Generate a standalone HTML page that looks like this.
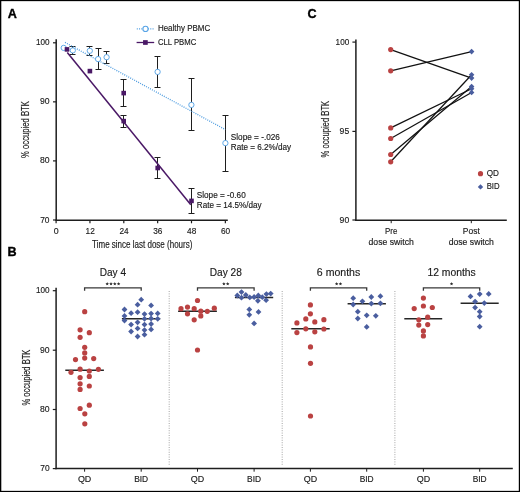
<!DOCTYPE html><html><head><meta charset="utf-8"><style>html,body{margin:0;padding:0;background:#fff;}svg{display:block;will-change:transform;}</style></head><body>
<svg width="520" height="492" viewBox="0 0 520 492" font-family='"Liberation Sans", sans-serif'>
<rect x="0" y="0" width="520" height="492" fill="#fff"/>
<text x="7.8" y="17.8" font-size="12.6" text-anchor="start" font-weight="bold" fill="#000" stroke="#000" stroke-width="0.35">A</text>
<line x1="56.2" y1="39.3" x2="56.2" y2="220.9" stroke="#1e1e1e" stroke-width="1.5"/>
<line x1="55.5" y1="220.2" x2="227.8" y2="220.2" stroke="#1e1e1e" stroke-width="1.5"/>
<line x1="53.0" y1="42.8" x2="56.2" y2="42.8" stroke="#1e1e1e" stroke-width="1.2"/>
<text x="49.5" y="45.3" font-size="9.3" text-anchor="end" font-weight="normal" fill="#1a1a1a" stroke="#1a1a1a" stroke-width="0.15" textLength="13.6" lengthAdjust="spacingAndGlyphs">100</text>
<line x1="53.0" y1="101.85" x2="56.2" y2="101.85" stroke="#1e1e1e" stroke-width="1.2"/>
<text x="49.5" y="104.35" font-size="9.3" text-anchor="end" font-weight="normal" fill="#1a1a1a" stroke="#1a1a1a" stroke-width="0.15" textLength="9.6" lengthAdjust="spacingAndGlyphs">90</text>
<line x1="53.0" y1="160.9" x2="56.2" y2="160.9" stroke="#1e1e1e" stroke-width="1.2"/>
<text x="49.5" y="163.4" font-size="9.3" text-anchor="end" font-weight="normal" fill="#1a1a1a" stroke="#1a1a1a" stroke-width="0.15" textLength="9.6" lengthAdjust="spacingAndGlyphs">80</text>
<line x1="53.0" y1="220.0" x2="56.2" y2="220.0" stroke="#1e1e1e" stroke-width="1.2"/>
<text x="49.5" y="222.5" font-size="9.3" text-anchor="end" font-weight="normal" fill="#1a1a1a" stroke="#1a1a1a" stroke-width="0.15" textLength="9.3" lengthAdjust="spacingAndGlyphs">70</text>
<line x1="56.1" y1="220.2" x2="56.1" y2="223.3" stroke="#1e1e1e" stroke-width="1.2"/>
<text x="56.300000000000004" y="234.2" font-size="9.3" text-anchor="middle" font-weight="normal" fill="#1a1a1a" stroke="#1a1a1a" stroke-width="0.15" textLength="4.9" lengthAdjust="spacingAndGlyphs">0</text>
<line x1="89.95" y1="220.2" x2="89.95" y2="223.3" stroke="#1e1e1e" stroke-width="1.2"/>
<text x="90.15" y="234.2" font-size="9.3" text-anchor="middle" font-weight="normal" fill="#1a1a1a" stroke="#1a1a1a" stroke-width="0.15" textLength="9.2" lengthAdjust="spacingAndGlyphs">12</text>
<line x1="123.80000000000001" y1="220.2" x2="123.80000000000001" y2="223.3" stroke="#1e1e1e" stroke-width="1.2"/>
<text x="124.00000000000001" y="234.2" font-size="9.3" text-anchor="middle" font-weight="normal" fill="#1a1a1a" stroke="#1a1a1a" stroke-width="0.15" textLength="9.2" lengthAdjust="spacingAndGlyphs">24</text>
<line x1="157.65" y1="220.2" x2="157.65" y2="223.3" stroke="#1e1e1e" stroke-width="1.2"/>
<text x="157.85" y="234.2" font-size="9.3" text-anchor="middle" font-weight="normal" fill="#1a1a1a" stroke="#1a1a1a" stroke-width="0.15" textLength="9.2" lengthAdjust="spacingAndGlyphs">36</text>
<line x1="191.5" y1="220.2" x2="191.5" y2="223.3" stroke="#1e1e1e" stroke-width="1.2"/>
<text x="191.7" y="234.2" font-size="9.3" text-anchor="middle" font-weight="normal" fill="#1a1a1a" stroke="#1a1a1a" stroke-width="0.15" textLength="9.2" lengthAdjust="spacingAndGlyphs">48</text>
<line x1="225.35" y1="220.2" x2="225.35" y2="223.3" stroke="#1e1e1e" stroke-width="1.2"/>
<text x="225.54999999999998" y="234.2" font-size="9.3" text-anchor="middle" font-weight="normal" fill="#1a1a1a" stroke="#1a1a1a" stroke-width="0.15" textLength="9.2" lengthAdjust="spacingAndGlyphs">60</text>
<text x="92.1" y="247.9" font-size="10.0" text-anchor="start" font-weight="normal" fill="#1a1a1a" stroke="#1a1a1a" stroke-width="0.15" textLength="100.3" lengthAdjust="spacingAndGlyphs">Time since last dose (hours)</text>
<text transform="translate(29.4,157.9) rotate(-90)" x="0" y="0" font-size="10.2" fill="#1a1a1a" stroke="#1a1a1a" stroke-width="0.15" textLength="56.7" lengthAdjust="spacingAndGlyphs">% occupied BTK</text>
<line x1="72.5" y1="46.5" x2="72.5" y2="54.5" stroke="#1e1e1e" stroke-width="1.0"/>
<line x1="69.5" y1="46.5" x2="75.5" y2="46.5" stroke="#1e1e1e" stroke-width="1.0"/>
<line x1="69.5" y1="54.5" x2="75.5" y2="54.5" stroke="#1e1e1e" stroke-width="1.0"/>
<line x1="89.5" y1="46.5" x2="89.5" y2="55.5" stroke="#1e1e1e" stroke-width="1.0"/>
<line x1="86.5" y1="46.5" x2="92.5" y2="46.5" stroke="#1e1e1e" stroke-width="1.0"/>
<line x1="86.5" y1="55.5" x2="92.5" y2="55.5" stroke="#1e1e1e" stroke-width="1.0"/>
<line x1="98.5" y1="48.5" x2="98.5" y2="69.5" stroke="#1e1e1e" stroke-width="1.0"/>
<line x1="95.5" y1="48.5" x2="101.5" y2="48.5" stroke="#1e1e1e" stroke-width="1.0"/>
<line x1="95.5" y1="69.5" x2="101.5" y2="69.5" stroke="#1e1e1e" stroke-width="1.0"/>
<line x1="106.5" y1="51.5" x2="106.5" y2="63.5" stroke="#1e1e1e" stroke-width="1.0"/>
<line x1="103.5" y1="51.5" x2="109.5" y2="51.5" stroke="#1e1e1e" stroke-width="1.0"/>
<line x1="103.5" y1="63.5" x2="109.5" y2="63.5" stroke="#1e1e1e" stroke-width="1.0"/>
<line x1="157.5" y1="56.5" x2="157.5" y2="87.5" stroke="#1e1e1e" stroke-width="1.0"/>
<line x1="154.5" y1="56.5" x2="160.5" y2="56.5" stroke="#1e1e1e" stroke-width="1.0"/>
<line x1="154.5" y1="87.5" x2="160.5" y2="87.5" stroke="#1e1e1e" stroke-width="1.0"/>
<line x1="191.5" y1="78.5" x2="191.5" y2="130.5" stroke="#1e1e1e" stroke-width="1.0"/>
<line x1="188.5" y1="78.5" x2="194.5" y2="78.5" stroke="#1e1e1e" stroke-width="1.0"/>
<line x1="188.5" y1="130.5" x2="194.5" y2="130.5" stroke="#1e1e1e" stroke-width="1.0"/>
<line x1="225.5" y1="115.5" x2="225.5" y2="171.5" stroke="#1e1e1e" stroke-width="1.0"/>
<line x1="222.5" y1="115.5" x2="228.5" y2="115.5" stroke="#1e1e1e" stroke-width="1.0"/>
<line x1="222.5" y1="171.5" x2="228.5" y2="171.5" stroke="#1e1e1e" stroke-width="1.0"/>
<line x1="123.5" y1="79.5" x2="123.5" y2="106.5" stroke="#1e1e1e" stroke-width="1.0"/>
<line x1="120.5" y1="79.5" x2="126.5" y2="79.5" stroke="#1e1e1e" stroke-width="1.0"/>
<line x1="120.5" y1="106.5" x2="126.5" y2="106.5" stroke="#1e1e1e" stroke-width="1.0"/>
<line x1="123.5" y1="115.5" x2="123.5" y2="127.5" stroke="#1e1e1e" stroke-width="1.0"/>
<line x1="120.5" y1="115.5" x2="126.5" y2="115.5" stroke="#1e1e1e" stroke-width="1.0"/>
<line x1="120.5" y1="127.5" x2="126.5" y2="127.5" stroke="#1e1e1e" stroke-width="1.0"/>
<line x1="157.5" y1="157.5" x2="157.5" y2="178.5" stroke="#1e1e1e" stroke-width="1.0"/>
<line x1="154.5" y1="157.5" x2="160.5" y2="157.5" stroke="#1e1e1e" stroke-width="1.0"/>
<line x1="154.5" y1="178.5" x2="160.5" y2="178.5" stroke="#1e1e1e" stroke-width="1.0"/>
<line x1="191.5" y1="188.5" x2="191.5" y2="213.5" stroke="#1e1e1e" stroke-width="1.0"/>
<line x1="188.5" y1="188.5" x2="194.5" y2="188.5" stroke="#1e1e1e" stroke-width="1.0"/>
<line x1="188.5" y1="213.5" x2="194.5" y2="213.5" stroke="#1e1e1e" stroke-width="1.0"/>
<line x1="65.0" y1="42.4" x2="225.3" y2="129.6" stroke="#4f9de0" stroke-width="1.3" stroke-dasharray="1.0 1.25"/>
<line x1="67.3" y1="52.5" x2="190.8" y2="204.7" stroke="#4a1866" stroke-width="1.5"/>
<circle cx="63.7" cy="47.9" r="2.65" fill="#fff" stroke="#58a4e6" stroke-width="0.95"/>
<circle cx="72.8" cy="50.4" r="2.65" fill="#fff" stroke="#58a4e6" stroke-width="0.95"/>
<circle cx="89.8" cy="50.8" r="2.65" fill="#fff" stroke="#58a4e6" stroke-width="0.95"/>
<circle cx="98.1" cy="59.1" r="2.65" fill="#fff" stroke="#58a4e6" stroke-width="0.95"/>
<circle cx="106.6" cy="57.2" r="2.65" fill="#fff" stroke="#58a4e6" stroke-width="0.95"/>
<circle cx="157.6" cy="71.9" r="2.65" fill="#fff" stroke="#58a4e6" stroke-width="0.95"/>
<circle cx="191.4" cy="104.9" r="2.65" fill="#fff" stroke="#58a4e6" stroke-width="0.95"/>
<circle cx="225.4" cy="143.1" r="2.65" fill="#fff" stroke="#58a4e6" stroke-width="0.95"/>
<rect x="64.7" y="47.1" width="4.6" height="4.6" fill="#4a1866"/>
<rect x="87.60000000000001" y="68.8" width="4.6" height="4.6" fill="#4a1866"/>
<rect x="121.4" y="90.8" width="4.6" height="4.6" fill="#4a1866"/>
<rect x="121.4" y="118.8" width="4.6" height="4.6" fill="#4a1866"/>
<rect x="155.39999999999998" y="165.7" width="4.6" height="4.6" fill="#4a1866"/>
<rect x="189.2" y="198.6" width="4.6" height="4.6" fill="#4a1866"/>
<line x1="136.8" y1="28.9" x2="154.8" y2="28.9" stroke="#4f9de0" stroke-width="1.3" stroke-dasharray="1.0 1.25"/>
<circle cx="145.5" cy="28.9" r="2.6" fill="#fff" stroke="#58a4e6" stroke-width="1.1"/>
<text x="157.9" y="31.3" font-size="8.6" text-anchor="start" font-weight="normal" fill="#1a1a1a" stroke="#1a1a1a" stroke-width="0.15" textLength="52.3" lengthAdjust="spacingAndGlyphs">Healthy PBMC</text>
<line x1="136.6" y1="42.5" x2="154.2" y2="42.5" stroke="#4a1866" stroke-width="1.3"/>
<rect x="143.05" y="40.15" width="4.7" height="4.7" fill="#4a1866"/>
<text x="157.9" y="44.9" font-size="8.6" text-anchor="start" font-weight="normal" fill="#1a1a1a" stroke="#1a1a1a" stroke-width="0.15" textLength="38.4" lengthAdjust="spacingAndGlyphs">CLL PBMC</text>
<text x="230.8" y="140.4" font-size="8.6" text-anchor="start" font-weight="normal" fill="#1a1a1a" stroke="#1a1a1a" stroke-width="0.15" textLength="49.1" lengthAdjust="spacingAndGlyphs">Slope = -.026</text>
<text x="230.8" y="149.8" font-size="8.6" text-anchor="start" font-weight="normal" fill="#1a1a1a" stroke="#1a1a1a" stroke-width="0.15" textLength="60.4" lengthAdjust="spacingAndGlyphs">Rate = 6.2%/day</text>
<text x="196.8" y="198.2" font-size="8.6" text-anchor="start" font-weight="normal" fill="#1a1a1a" stroke="#1a1a1a" stroke-width="0.15" textLength="48.9" lengthAdjust="spacingAndGlyphs">Slope = -0.60</text>
<text x="196.8" y="207.6" font-size="8.6" text-anchor="start" font-weight="normal" fill="#1a1a1a" stroke="#1a1a1a" stroke-width="0.15" textLength="64.9" lengthAdjust="spacingAndGlyphs">Rate = 14.5%/day</text>
<text x="307.6" y="18.3" font-size="12.6" text-anchor="start" font-weight="bold" fill="#000" stroke="#000" stroke-width="0.35">C</text>
<line x1="355.9" y1="39.6" x2="355.9" y2="220.9" stroke="#1e1e1e" stroke-width="1.5"/>
<line x1="355.2" y1="220.2" x2="506.8" y2="220.2" stroke="#1e1e1e" stroke-width="1.5"/>
<line x1="352.4" y1="42.1" x2="355.9" y2="42.1" stroke="#1e1e1e" stroke-width="1.2"/>
<text x="349.2" y="44.6" font-size="9.3" text-anchor="end" font-weight="normal" fill="#1a1a1a" stroke="#1a1a1a" stroke-width="0.15" textLength="13.6" lengthAdjust="spacingAndGlyphs">100</text>
<line x1="352.4" y1="131.4" x2="355.9" y2="131.4" stroke="#1e1e1e" stroke-width="1.2"/>
<text x="349.2" y="133.9" font-size="9.3" text-anchor="end" font-weight="normal" fill="#1a1a1a" stroke="#1a1a1a" stroke-width="0.15" textLength="9.6" lengthAdjust="spacingAndGlyphs">95</text>
<line x1="352.4" y1="220.0" x2="355.9" y2="220.0" stroke="#1e1e1e" stroke-width="1.2"/>
<text x="349.2" y="222.5" font-size="9.3" text-anchor="end" font-weight="normal" fill="#1a1a1a" stroke="#1a1a1a" stroke-width="0.15" textLength="9.6" lengthAdjust="spacingAndGlyphs">90</text>
<line x1="391.2" y1="220.2" x2="391.2" y2="223.2" stroke="#1e1e1e" stroke-width="1.0"/>
<text x="391.2" y="234.1" font-size="8.8" text-anchor="middle" font-weight="normal" fill="#1a1a1a" stroke="#1a1a1a" stroke-width="0.15" textLength="12.3" lengthAdjust="spacingAndGlyphs">Pre</text>
<text x="391.2" y="244.6" font-size="8.8" text-anchor="middle" font-weight="normal" fill="#1a1a1a" stroke="#1a1a1a" stroke-width="0.15" textLength="45.3" lengthAdjust="spacingAndGlyphs">dose switch</text>
<line x1="471.3" y1="220.2" x2="471.3" y2="223.2" stroke="#1e1e1e" stroke-width="1.0"/>
<text x="471.3" y="234.1" font-size="8.8" text-anchor="middle" font-weight="normal" fill="#1a1a1a" stroke="#1a1a1a" stroke-width="0.15" textLength="16.9" lengthAdjust="spacingAndGlyphs">Post</text>
<text x="471.3" y="244.6" font-size="8.8" text-anchor="middle" font-weight="normal" fill="#1a1a1a" stroke="#1a1a1a" stroke-width="0.15" textLength="45.3" lengthAdjust="spacingAndGlyphs">dose switch</text>
<text transform="translate(328.7,157.5) rotate(-90)" x="0" y="0" font-size="10.2" fill="#1a1a1a" stroke="#1a1a1a" stroke-width="0.15" textLength="56.7" lengthAdjust="spacingAndGlyphs">% occupied BTK</text>
<line x1="390.7" y1="49.6" x2="471.6" y2="78.1" stroke="#111" stroke-width="1.25"/>
<line x1="390.7" y1="70.8" x2="471.6" y2="51.6" stroke="#111" stroke-width="1.25"/>
<line x1="390.7" y1="127.9" x2="471.6" y2="88.7" stroke="#111" stroke-width="1.25"/>
<line x1="390.7" y1="138.5" x2="471.6" y2="92.5" stroke="#111" stroke-width="1.25"/>
<line x1="390.7" y1="154.5" x2="471.6" y2="86.6" stroke="#111" stroke-width="1.25"/>
<line x1="390.7" y1="161.8" x2="471.6" y2="74.7" stroke="#111" stroke-width="1.25"/>
<circle cx="390.7" cy="49.6" r="2.6" fill="#ba4242" stroke="none" stroke-width="0"/>
<circle cx="390.7" cy="70.8" r="2.6" fill="#ba4242" stroke="none" stroke-width="0"/>
<circle cx="390.7" cy="127.9" r="2.6" fill="#ba4242" stroke="none" stroke-width="0"/>
<circle cx="390.7" cy="138.5" r="2.6" fill="#ba4242" stroke="none" stroke-width="0"/>
<circle cx="390.7" cy="154.5" r="2.6" fill="#ba4242" stroke="none" stroke-width="0"/>
<circle cx="390.7" cy="161.8" r="2.6" fill="#ba4242" stroke="none" stroke-width="0"/>
<path d="M471.6 48.800000000000004L474.40000000000003 51.6L471.6 54.4L468.8 51.6Z" fill="#4a5e9f"/>
<path d="M471.6 71.9L474.40000000000003 74.7L471.6 77.5L468.8 74.7Z" fill="#4a5e9f"/>
<path d="M471.6 75.3L474.40000000000003 78.1L471.6 80.89999999999999L468.8 78.1Z" fill="#4a5e9f"/>
<path d="M471.6 83.8L474.40000000000003 86.6L471.6 89.39999999999999L468.8 86.6Z" fill="#4a5e9f"/>
<path d="M471.6 85.9L474.40000000000003 88.7L471.6 91.5L468.8 88.7Z" fill="#4a5e9f"/>
<path d="M471.6 89.7L474.40000000000003 92.5L471.6 95.3L468.8 92.5Z" fill="#4a5e9f"/>
<circle cx="480.5" cy="173.7" r="2.6" fill="#ba4242" stroke="none" stroke-width="0"/>
<text x="486.7" y="176.0" font-size="8.6" text-anchor="start" font-weight="normal" fill="#1a1a1a" stroke="#1a1a1a" stroke-width="0.15" textLength="12.2" lengthAdjust="spacingAndGlyphs">QD</text>
<path d="M480.5 184.20000000000002L483.2 186.9L480.5 189.6L477.8 186.9Z" fill="#4a5e9f"/>
<text x="486.7" y="189.2" font-size="8.6" text-anchor="start" font-weight="normal" fill="#1a1a1a" stroke="#1a1a1a" stroke-width="0.15" textLength="12.9" lengthAdjust="spacingAndGlyphs">BID</text>
<text x="7.6" y="255.9" font-size="12.6" text-anchor="start" font-weight="bold" fill="#000" stroke="#000" stroke-width="0.35">B</text>
<line x1="56.1" y1="287.7" x2="56.1" y2="469.3" stroke="#1e1e1e" stroke-width="1.5"/>
<line x1="55.4" y1="468.6" x2="512.8" y2="468.6" stroke="#1e1e1e" stroke-width="1.5"/>
<line x1="52.8" y1="290.7" x2="56.1" y2="290.7" stroke="#1e1e1e" stroke-width="1.2"/>
<text x="49.6" y="293.2" font-size="9.3" text-anchor="end" font-weight="normal" fill="#1a1a1a" stroke="#1a1a1a" stroke-width="0.15" textLength="13.6" lengthAdjust="spacingAndGlyphs">100</text>
<line x1="52.8" y1="350.2" x2="56.1" y2="350.2" stroke="#1e1e1e" stroke-width="1.2"/>
<text x="49.6" y="352.7" font-size="9.3" text-anchor="end" font-weight="normal" fill="#1a1a1a" stroke="#1a1a1a" stroke-width="0.15" textLength="9.6" lengthAdjust="spacingAndGlyphs">90</text>
<line x1="52.8" y1="409.5" x2="56.1" y2="409.5" stroke="#1e1e1e" stroke-width="1.2"/>
<text x="49.6" y="412.0" font-size="9.3" text-anchor="end" font-weight="normal" fill="#1a1a1a" stroke="#1a1a1a" stroke-width="0.15" textLength="9.6" lengthAdjust="spacingAndGlyphs">80</text>
<line x1="52.8" y1="468.6" x2="56.1" y2="468.6" stroke="#1e1e1e" stroke-width="1.2"/>
<text x="49.6" y="471.1" font-size="9.3" text-anchor="end" font-weight="normal" fill="#1a1a1a" stroke="#1a1a1a" stroke-width="0.15" textLength="9.3" lengthAdjust="spacingAndGlyphs">70</text>
<text transform="translate(29.7,405.6) rotate(-90)" x="0" y="0" font-size="10.2" fill="#1a1a1a" stroke="#1a1a1a" stroke-width="0.15" textLength="56.0" lengthAdjust="spacingAndGlyphs">% occupied BTK</text>
<line x1="84.6" y1="468.6" x2="84.6" y2="471.7" stroke="#1e1e1e" stroke-width="1.0"/>
<line x1="141.2" y1="468.6" x2="141.2" y2="471.7" stroke="#1e1e1e" stroke-width="1.0"/>
<text x="84.6" y="482.2" font-size="8.4" text-anchor="middle" font-weight="normal" fill="#1a1a1a" stroke="#1a1a1a" stroke-width="0.15" textLength="13.4" lengthAdjust="spacingAndGlyphs">QD</text>
<text x="141.2" y="482.2" font-size="8.4" text-anchor="middle" font-weight="normal" fill="#1a1a1a" stroke="#1a1a1a" stroke-width="0.15" textLength="14.0" lengthAdjust="spacingAndGlyphs">BID</text>
<text x="112.89999999999999" y="276.4" font-size="10.4" text-anchor="middle" font-weight="normal" fill="#1a1a1a" stroke="#1a1a1a" stroke-width="0.15" textLength="26.3" lengthAdjust="spacingAndGlyphs">Day 4</text>
<path d="M84.6 290.8V287.9H141.2V290.8" fill="none" stroke="#383838" stroke-width="1.3"/>
<polygon points="107.20,282.10 107.70,283.21 108.91,283.34 108.01,284.16 108.26,285.36 107.20,284.75 106.14,285.36 106.39,284.16 105.49,283.34 106.70,283.21" fill="#2a2a2a"/>
<polygon points="111.00,282.10 111.50,283.21 112.71,283.34 111.81,284.16 112.06,285.36 111.00,284.75 109.94,285.36 110.19,284.16 109.29,283.34 110.50,283.21" fill="#2a2a2a"/>
<polygon points="114.80,282.10 115.30,283.21 116.51,283.34 115.61,284.16 115.86,285.36 114.80,284.75 113.74,285.36 113.99,284.16 113.09,283.34 114.30,283.21" fill="#2a2a2a"/>
<polygon points="118.60,282.10 119.10,283.21 120.31,283.34 119.41,284.16 119.66,285.36 118.60,284.75 117.54,285.36 117.79,284.16 116.89,283.34 118.10,283.21" fill="#2a2a2a"/>
<line x1="197.5" y1="468.6" x2="197.5" y2="471.7" stroke="#1e1e1e" stroke-width="1.0"/>
<line x1="254.1" y1="468.6" x2="254.1" y2="471.7" stroke="#1e1e1e" stroke-width="1.0"/>
<text x="197.5" y="482.2" font-size="8.4" text-anchor="middle" font-weight="normal" fill="#1a1a1a" stroke="#1a1a1a" stroke-width="0.15" textLength="13.4" lengthAdjust="spacingAndGlyphs">QD</text>
<text x="254.1" y="482.2" font-size="8.4" text-anchor="middle" font-weight="normal" fill="#1a1a1a" stroke="#1a1a1a" stroke-width="0.15" textLength="14.0" lengthAdjust="spacingAndGlyphs">BID</text>
<text x="225.8" y="276.4" font-size="10.4" text-anchor="middle" font-weight="normal" fill="#1a1a1a" stroke="#1a1a1a" stroke-width="0.15" textLength="32.1" lengthAdjust="spacingAndGlyphs">Day 28</text>
<path d="M197.5 290.8V287.9H254.1V290.8" fill="none" stroke="#383838" stroke-width="1.3"/>
<polygon points="223.90,282.10 224.40,283.21 225.61,283.34 224.71,284.16 224.96,285.36 223.90,284.75 222.84,285.36 223.09,284.16 222.19,283.34 223.40,283.21" fill="#2a2a2a"/>
<polygon points="227.70,282.10 228.20,283.21 229.41,283.34 228.51,284.16 228.76,285.36 227.70,284.75 226.64,285.36 226.89,284.16 225.99,283.34 227.20,283.21" fill="#2a2a2a"/>
<line x1="310.4" y1="468.6" x2="310.4" y2="471.7" stroke="#1e1e1e" stroke-width="1.0"/>
<line x1="366.7" y1="468.6" x2="366.7" y2="471.7" stroke="#1e1e1e" stroke-width="1.0"/>
<text x="310.4" y="482.2" font-size="8.4" text-anchor="middle" font-weight="normal" fill="#1a1a1a" stroke="#1a1a1a" stroke-width="0.15" textLength="13.4" lengthAdjust="spacingAndGlyphs">QD</text>
<text x="366.7" y="482.2" font-size="8.4" text-anchor="middle" font-weight="normal" fill="#1a1a1a" stroke="#1a1a1a" stroke-width="0.15" textLength="14.0" lengthAdjust="spacingAndGlyphs">BID</text>
<text x="338.54999999999995" y="276.4" font-size="10.4" text-anchor="middle" font-weight="normal" fill="#1a1a1a" stroke="#1a1a1a" stroke-width="0.15" textLength="43.4" lengthAdjust="spacingAndGlyphs">6 months</text>
<path d="M310.4 290.8V287.9H366.7V290.8" fill="none" stroke="#383838" stroke-width="1.3"/>
<polygon points="336.65,282.10 337.15,283.21 338.36,283.34 337.46,284.16 337.71,285.36 336.65,284.75 335.59,285.36 335.84,284.16 334.94,283.34 336.15,283.21" fill="#2a2a2a"/>
<polygon points="340.45,282.10 340.95,283.21 342.16,283.34 341.26,284.16 341.51,285.36 340.45,284.75 339.39,285.36 339.64,284.16 338.74,283.34 339.95,283.21" fill="#2a2a2a"/>
<line x1="423.4" y1="468.6" x2="423.4" y2="471.7" stroke="#1e1e1e" stroke-width="1.0"/>
<line x1="479.7" y1="468.6" x2="479.7" y2="471.7" stroke="#1e1e1e" stroke-width="1.0"/>
<text x="423.4" y="482.2" font-size="8.4" text-anchor="middle" font-weight="normal" fill="#1a1a1a" stroke="#1a1a1a" stroke-width="0.15" textLength="13.4" lengthAdjust="spacingAndGlyphs">QD</text>
<text x="479.7" y="482.2" font-size="8.4" text-anchor="middle" font-weight="normal" fill="#1a1a1a" stroke="#1a1a1a" stroke-width="0.15" textLength="14.0" lengthAdjust="spacingAndGlyphs">BID</text>
<text x="451.54999999999995" y="276.4" font-size="10.4" text-anchor="middle" font-weight="normal" fill="#1a1a1a" stroke="#1a1a1a" stroke-width="0.15" textLength="48.3" lengthAdjust="spacingAndGlyphs">12 months</text>
<path d="M423.4 290.8V287.9H479.7V290.8" fill="none" stroke="#383838" stroke-width="1.3"/>
<polygon points="451.55,282.10 452.05,283.21 453.26,283.34 452.36,284.16 452.61,285.36 451.55,284.75 450.49,285.36 450.74,284.16 449.84,283.34 451.05,283.21" fill="#2a2a2a"/>
<line x1="169.2" y1="291.0" x2="169.2" y2="465.8" stroke="#9a9a9a" stroke-width="0.9" stroke-dasharray="1 1.4"/>
<line x1="282.2" y1="291.0" x2="282.2" y2="465.8" stroke="#9a9a9a" stroke-width="0.9" stroke-dasharray="1 1.4"/>
<line x1="394.9" y1="291.0" x2="394.9" y2="465.8" stroke="#9a9a9a" stroke-width="0.9" stroke-dasharray="1 1.4"/>
<line x1="65.3" y1="370.3" x2="103.9" y2="370.3" stroke="#262626" stroke-width="1.6"/>
<line x1="121.9" y1="318.8" x2="160.2" y2="318.8" stroke="#262626" stroke-width="1.6"/>
<line x1="178.1" y1="311.2" x2="216.9" y2="311.2" stroke="#262626" stroke-width="1.6"/>
<line x1="234.9" y1="297.5" x2="273.2" y2="297.5" stroke="#262626" stroke-width="1.6"/>
<line x1="291.3" y1="328.8" x2="329.7" y2="328.8" stroke="#262626" stroke-width="1.6"/>
<line x1="347.6" y1="303.8" x2="385.9" y2="303.8" stroke="#262626" stroke-width="1.6"/>
<line x1="404.3" y1="318.8" x2="442.2" y2="318.8" stroke="#262626" stroke-width="1.6"/>
<line x1="460.6" y1="303.3" x2="498.7" y2="303.3" stroke="#262626" stroke-width="1.6"/>
<circle cx="84.7" cy="311.7" r="2.6" fill="#ba4242" stroke="none" stroke-width="0"/>
<circle cx="80.1" cy="329.8" r="2.6" fill="#ba4242" stroke="none" stroke-width="0"/>
<circle cx="89.3" cy="332.7" r="2.6" fill="#ba4242" stroke="none" stroke-width="0"/>
<circle cx="80.1" cy="337.3" r="2.6" fill="#ba4242" stroke="none" stroke-width="0"/>
<circle cx="84.7" cy="347.3" r="2.6" fill="#ba4242" stroke="none" stroke-width="0"/>
<circle cx="84.7" cy="352.9" r="2.6" fill="#ba4242" stroke="none" stroke-width="0"/>
<circle cx="84.7" cy="358.1" r="2.6" fill="#ba4242" stroke="none" stroke-width="0"/>
<circle cx="75.5" cy="359.6" r="2.6" fill="#ba4242" stroke="none" stroke-width="0"/>
<circle cx="93.7" cy="358.6" r="2.6" fill="#ba4242" stroke="none" stroke-width="0"/>
<circle cx="80.1" cy="369.2" r="2.6" fill="#ba4242" stroke="none" stroke-width="0"/>
<circle cx="98.4" cy="369.3" r="2.6" fill="#ba4242" stroke="none" stroke-width="0"/>
<circle cx="71.0" cy="372.3" r="2.6" fill="#ba4242" stroke="none" stroke-width="0"/>
<circle cx="89.3" cy="371.0" r="2.6" fill="#ba4242" stroke="none" stroke-width="0"/>
<circle cx="89.3" cy="376.4" r="2.6" fill="#ba4242" stroke="none" stroke-width="0"/>
<circle cx="80.1" cy="377.6" r="2.6" fill="#ba4242" stroke="none" stroke-width="0"/>
<circle cx="80.1" cy="383.8" r="2.6" fill="#ba4242" stroke="none" stroke-width="0"/>
<circle cx="89.3" cy="386.0" r="2.6" fill="#ba4242" stroke="none" stroke-width="0"/>
<circle cx="80.1" cy="389.4" r="2.6" fill="#ba4242" stroke="none" stroke-width="0"/>
<circle cx="89.3" cy="405.2" r="2.6" fill="#ba4242" stroke="none" stroke-width="0"/>
<circle cx="80.1" cy="408.5" r="2.6" fill="#ba4242" stroke="none" stroke-width="0"/>
<circle cx="84.8" cy="413.8" r="2.6" fill="#ba4242" stroke="none" stroke-width="0"/>
<circle cx="84.8" cy="423.8" r="2.6" fill="#ba4242" stroke="none" stroke-width="0"/>
<circle cx="181.0" cy="308.7" r="2.6" fill="#ba4242" stroke="none" stroke-width="0"/>
<circle cx="187.5" cy="307.1" r="2.6" fill="#ba4242" stroke="none" stroke-width="0"/>
<circle cx="194.2" cy="308.7" r="2.6" fill="#ba4242" stroke="none" stroke-width="0"/>
<circle cx="197.5" cy="300.5" r="2.6" fill="#ba4242" stroke="none" stroke-width="0"/>
<circle cx="200.8" cy="311.2" r="2.6" fill="#ba4242" stroke="none" stroke-width="0"/>
<circle cx="207.3" cy="311.3" r="2.6" fill="#ba4242" stroke="none" stroke-width="0"/>
<circle cx="214.3" cy="308.2" r="2.6" fill="#ba4242" stroke="none" stroke-width="0"/>
<circle cx="187.5" cy="313.8" r="2.6" fill="#ba4242" stroke="none" stroke-width="0"/>
<circle cx="200.8" cy="315.9" r="2.6" fill="#ba4242" stroke="none" stroke-width="0"/>
<circle cx="194.2" cy="319.8" r="2.6" fill="#ba4242" stroke="none" stroke-width="0"/>
<circle cx="197.5" cy="350.0" r="2.6" fill="#ba4242" stroke="none" stroke-width="0"/>
<circle cx="310.4" cy="304.9" r="2.6" fill="#ba4242" stroke="none" stroke-width="0"/>
<circle cx="310.4" cy="313.8" r="2.6" fill="#ba4242" stroke="none" stroke-width="0"/>
<circle cx="305.8" cy="318.9" r="2.6" fill="#ba4242" stroke="none" stroke-width="0"/>
<circle cx="314.8" cy="321.9" r="2.6" fill="#ba4242" stroke="none" stroke-width="0"/>
<circle cx="323.9" cy="319.7" r="2.6" fill="#ba4242" stroke="none" stroke-width="0"/>
<circle cx="296.9" cy="322.9" r="2.6" fill="#ba4242" stroke="none" stroke-width="0"/>
<circle cx="305.8" cy="328.8" r="2.6" fill="#ba4242" stroke="none" stroke-width="0"/>
<circle cx="323.9" cy="329.0" r="2.6" fill="#ba4242" stroke="none" stroke-width="0"/>
<circle cx="296.9" cy="332.6" r="2.6" fill="#ba4242" stroke="none" stroke-width="0"/>
<circle cx="314.8" cy="331.8" r="2.6" fill="#ba4242" stroke="none" stroke-width="0"/>
<circle cx="310.5" cy="346.9" r="2.6" fill="#ba4242" stroke="none" stroke-width="0"/>
<circle cx="310.5" cy="363.3" r="2.6" fill="#ba4242" stroke="none" stroke-width="0"/>
<circle cx="310.5" cy="416.0" r="2.6" fill="#ba4242" stroke="none" stroke-width="0"/>
<circle cx="423.4" cy="298.1" r="2.6" fill="#ba4242" stroke="none" stroke-width="0"/>
<circle cx="423.4" cy="306.0" r="2.6" fill="#ba4242" stroke="none" stroke-width="0"/>
<circle cx="414.2" cy="308.6" r="2.6" fill="#ba4242" stroke="none" stroke-width="0"/>
<circle cx="432.3" cy="307.5" r="2.6" fill="#ba4242" stroke="none" stroke-width="0"/>
<circle cx="427.7" cy="317.2" r="2.6" fill="#ba4242" stroke="none" stroke-width="0"/>
<circle cx="418.8" cy="319.8" r="2.6" fill="#ba4242" stroke="none" stroke-width="0"/>
<circle cx="418.8" cy="325.1" r="2.6" fill="#ba4242" stroke="none" stroke-width="0"/>
<circle cx="427.7" cy="324.6" r="2.6" fill="#ba4242" stroke="none" stroke-width="0"/>
<circle cx="423.4" cy="330.9" r="2.6" fill="#ba4242" stroke="none" stroke-width="0"/>
<circle cx="423.4" cy="335.9" r="2.6" fill="#ba4242" stroke="none" stroke-width="0"/>
<path d="M141.2 296.8L144.1 299.7L141.2 302.59999999999997L138.29999999999998 299.7Z" fill="#4a5e9f"/>
<path d="M137.6 301.8L140.5 304.7L137.6 307.59999999999997L134.7 304.7Z" fill="#4a5e9f"/>
<path d="M151.1 302.5L154.0 305.4L151.1 308.29999999999995L148.2 305.4Z" fill="#4a5e9f"/>
<path d="M124.5 306.6L127.4 309.5L124.5 312.4L121.6 309.5Z" fill="#4a5e9f"/>
<path d="M131.1 310.3L134.0 313.2L131.1 316.09999999999997L128.2 313.2Z" fill="#4a5e9f"/>
<path d="M137.6 309.3L140.5 312.2L137.6 315.09999999999997L134.7 312.2Z" fill="#4a5e9f"/>
<path d="M144.5 311.20000000000005L147.4 314.1L144.5 317.0L141.6 314.1Z" fill="#4a5e9f"/>
<path d="M151.1 310.70000000000005L154.0 313.6L151.1 316.5L148.2 313.6Z" fill="#4a5e9f"/>
<path d="M157.7 310.5L160.6 313.4L157.7 316.29999999999995L154.79999999999998 313.4Z" fill="#4a5e9f"/>
<path d="M124.5 313.0L127.4 315.9L124.5 318.79999999999995L121.6 315.9Z" fill="#4a5e9f"/>
<path d="M124.5 317.6L127.4 320.5L124.5 323.4L121.6 320.5Z" fill="#4a5e9f"/>
<path d="M144.5 315.90000000000003L147.4 318.8L144.5 321.7L141.6 318.8Z" fill="#4a5e9f"/>
<path d="M151.1 315.6L154.0 318.5L151.1 321.4L148.2 318.5Z" fill="#4a5e9f"/>
<path d="M157.7 315.90000000000003L160.6 318.8L157.7 321.7L154.79999999999998 318.8Z" fill="#4a5e9f"/>
<path d="M137.6 319.40000000000003L140.5 322.3L137.6 325.2L134.7 322.3Z" fill="#4a5e9f"/>
<path d="M131.1 321.70000000000005L134.0 324.6L131.1 327.5L128.2 324.6Z" fill="#4a5e9f"/>
<path d="M144.5 321.70000000000005L147.4 324.6L144.5 327.5L141.6 324.6Z" fill="#4a5e9f"/>
<path d="M151.1 321.1L154.0 324.0L151.1 326.9L148.2 324.0Z" fill="#4a5e9f"/>
<path d="M137.6 325.5L140.5 328.4L137.6 331.29999999999995L134.7 328.4Z" fill="#4a5e9f"/>
<path d="M131.1 328.6L134.0 331.5L131.1 334.4L128.2 331.5Z" fill="#4a5e9f"/>
<path d="M144.5 327.20000000000005L147.4 330.1L144.5 333.0L141.6 330.1Z" fill="#4a5e9f"/>
<path d="M151.1 326.5L154.0 329.4L151.1 332.29999999999995L148.2 329.4Z" fill="#4a5e9f"/>
<path d="M144.5 331.8L147.4 334.7L144.5 337.59999999999997L141.6 334.7Z" fill="#4a5e9f"/>
<path d="M137.6 333.6L140.5 336.5L137.6 339.4L134.7 336.5Z" fill="#4a5e9f"/>
<path d="M241.5 289.20000000000005L244.4 292.1L241.5 295.0L238.6 292.1Z" fill="#4a5e9f"/>
<path d="M237.3 292.6L240.20000000000002 295.5L237.3 298.4L234.4 295.5Z" fill="#4a5e9f"/>
<path d="M245.8 292.1L248.70000000000002 295.0L245.8 297.9L242.9 295.0Z" fill="#4a5e9f"/>
<path d="M241.5 294.8L244.4 297.7L241.5 300.59999999999997L238.6 297.7Z" fill="#4a5e9f"/>
<path d="M249.8 294.5L252.70000000000002 297.4L249.8 300.29999999999995L246.9 297.4Z" fill="#4a5e9f"/>
<path d="M254.1 294.1L257.0 297.0L254.1 299.9L251.2 297.0Z" fill="#4a5e9f"/>
<path d="M258.3 292.6L261.2 295.5L258.3 298.4L255.4 295.5Z" fill="#4a5e9f"/>
<path d="M262.3 294.3L265.2 297.2L262.3 300.09999999999997L259.40000000000003 297.2Z" fill="#4a5e9f"/>
<path d="M266.4 291.20000000000005L269.29999999999995 294.1L266.4 297.0L263.5 294.1Z" fill="#4a5e9f"/>
<path d="M270.7 290.70000000000005L273.59999999999997 293.6L270.7 296.5L267.8 293.6Z" fill="#4a5e9f"/>
<path d="M257.9 297.90000000000003L260.79999999999995 300.8L257.9 303.7L254.99999999999997 300.8Z" fill="#4a5e9f"/>
<path d="M266.1 297.3L269.0 300.2L266.1 303.09999999999997L263.20000000000005 300.2Z" fill="#4a5e9f"/>
<path d="M249.3 306.5L252.20000000000002 309.4L249.3 312.29999999999995L246.4 309.4Z" fill="#4a5e9f"/>
<path d="M258.5 309.0L261.4 311.9L258.5 314.79999999999995L255.6 311.9Z" fill="#4a5e9f"/>
<path d="M249.3 311.90000000000003L252.20000000000002 314.8L249.3 317.7L246.4 314.8Z" fill="#4a5e9f"/>
<path d="M254.1 320.5L257.0 323.4L254.1 326.29999999999995L251.2 323.4Z" fill="#4a5e9f"/>
<path d="M353.2 295.3L356.09999999999997 298.2L353.2 301.09999999999997L350.3 298.2Z" fill="#4a5e9f"/>
<path d="M371.3 294.1L374.2 297.0L371.3 299.9L368.40000000000003 297.0Z" fill="#4a5e9f"/>
<path d="M380.4 293.3L383.29999999999995 296.2L380.4 299.09999999999997L377.5 296.2Z" fill="#4a5e9f"/>
<path d="M362.4 298.40000000000003L365.29999999999995 301.3L362.4 304.2L359.5 301.3Z" fill="#4a5e9f"/>
<path d="M353.2 301.6L356.09999999999997 304.5L353.2 307.4L350.3 304.5Z" fill="#4a5e9f"/>
<path d="M371.3 300.70000000000005L374.2 303.6L371.3 306.5L368.40000000000003 303.6Z" fill="#4a5e9f"/>
<path d="M380.4 300.40000000000003L383.29999999999995 303.3L380.4 306.2L377.5 303.3Z" fill="#4a5e9f"/>
<path d="M357.8 308.8L360.7 311.7L357.8 314.59999999999997L354.90000000000003 311.7Z" fill="#4a5e9f"/>
<path d="M366.7 312.40000000000003L369.59999999999997 315.3L366.7 318.2L363.8 315.3Z" fill="#4a5e9f"/>
<path d="M375.8 312.90000000000003L378.7 315.8L375.8 318.7L372.90000000000003 315.8Z" fill="#4a5e9f"/>
<path d="M357.8 315.6L360.7 318.5L357.8 321.4L354.90000000000003 318.5Z" fill="#4a5e9f"/>
<path d="M366.7 324.0L369.59999999999997 326.9L366.7 329.79999999999995L363.8 326.9Z" fill="#4a5e9f"/>
<path d="M479.7 291.20000000000005L482.59999999999997 294.1L479.7 297.0L476.8 294.1Z" fill="#4a5e9f"/>
<path d="M488.7 291.0L491.59999999999997 293.9L488.7 296.79999999999995L485.8 293.9Z" fill="#4a5e9f"/>
<path d="M470.5 293.5L473.4 296.4L470.5 299.29999999999995L467.6 296.4Z" fill="#4a5e9f"/>
<path d="M475.1 298.70000000000005L478.0 301.6L475.1 304.5L472.20000000000005 301.6Z" fill="#4a5e9f"/>
<path d="M484.3 300.20000000000005L487.2 303.1L484.3 306.0L481.40000000000003 303.1Z" fill="#4a5e9f"/>
<path d="M475.1 304.70000000000005L478.0 307.6L475.1 310.5L472.20000000000005 307.6Z" fill="#4a5e9f"/>
<path d="M479.7 308.8L482.59999999999997 311.7L479.7 314.59999999999997L476.8 311.7Z" fill="#4a5e9f"/>
<path d="M479.7 313.6L482.59999999999997 316.5L479.7 319.4L476.8 316.5Z" fill="#4a5e9f"/>
<path d="M479.7 323.8L482.59999999999997 326.7L479.7 329.59999999999997L476.8 326.7Z" fill="#4a5e9f"/>
<rect x="0" y="0" width="520" height="1.15" fill="#000"/>
<rect x="0" y="0" width="1.3" height="492" fill="#000"/>
<rect x="518.8" y="0" width="1.2" height="492" fill="#000"/>
<rect x="0" y="490.85" width="520" height="1.15" fill="#000"/>
</svg></body></html>
